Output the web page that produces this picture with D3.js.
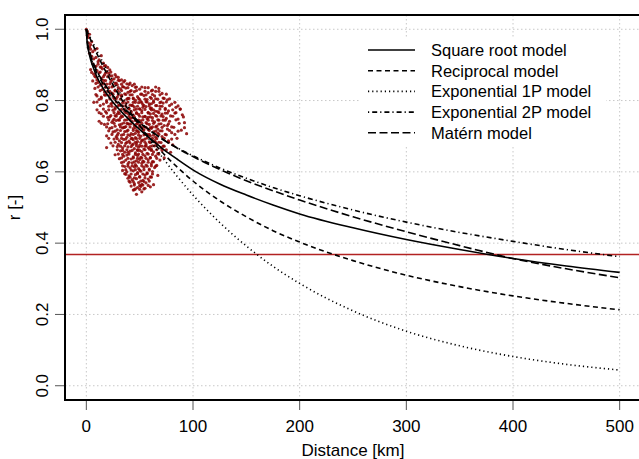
<!DOCTYPE html>
<html>
<head>
<meta charset="utf-8">
<script src="https://cdn.jsdelivr.net/npm/d3@7"></script>
<style>
  body { margin: 0; background: #fff; }
  text { font-family: 'Liberation Sans', Arial, sans-serif; }
</style>
</head>
<body>
<script>
var distKm = [0, 1, 2, 4, 6.5, 10, 15, 25, 35, 47, 60, 72, 85, 103, 125, 150, 175, 200, 250, 300, 350, 400, 450, 500];
var sqrtModel = [1, 0.955, 0.94, 0.915, 0.893, 0.866, 0.838, 0.795, 0.762, 0.727, 0.693, 0.664, 0.636, 0.6, 0.566, 0.535, 0.507, 0.482, 0.443, 0.41, 0.382, 0.357, 0.336, 0.318];
var reciprocalModel = [1, 0.993, 0.985, 0.971, 0.954, 0.931, 0.9, 0.844, 0.794, 0.742, 0.692, 0.652, 0.614, 0.567, 0.519, 0.474, 0.435, 0.403, 0.351, 0.31, 0.278, 0.252, 0.231, 0.213];
var exp1pModel = [1, 0.994, 0.988, 0.975, 0.96, 0.939, 0.91, 0.855, 0.804, 0.745, 0.687, 0.638, 0.588, 0.525, 0.458, 0.392, 0.335, 0.287, 0.21, 0.153, 0.112, 0.082, 0.06, 0.044];
var exp2pModel = [1, 0.961, 0.945, 0.922, 0.9, 0.876, 0.85, 0.808, 0.776, 0.744, 0.715, 0.691, 0.668, 0.641, 0.611, 0.582, 0.556, 0.533, 0.493, 0.459, 0.43, 0.405, 0.382, 0.362];
var maternModel = [1, 0.965, 0.95, 0.928, 0.906, 0.882, 0.856, 0.814, 0.78, 0.747, 0.716, 0.69, 0.667, 0.638, 0.607, 0.575, 0.547, 0.521, 0.474, 0.432, 0.393, 0.357, 0.328, 0.303];

var legendLabels = ['Square root model', 'Reciprocal model', 'Exponential 1P model', 'Exponential 2P model', 'Matérn model'];
var xTicks = [0, 100, 200, 300, 400, 500];
var yTicks = [0, 0.2, 0.4, 0.6, 0.8, 1.0];
var thresholdR = 0.368;

// observed station pairs [distance km, r]
var scatterPts = [
  [0,1.000],[1,0.994],[1,0.983],[2,0.977],[3,0.986],
  [2,0.962],[4,0.957],[5,0.965],[3,0.951],
  [4,0.944],[6,0.937],[8,0.942],[3,0.933],[10,0.946],
  [5,0.924],[7,0.917],[9,0.921],[12,0.914],[14,0.926],[11,0.909],
  [6,0.903],[8,0.896],[11,0.902],[13,0.894],[16,0.905],[18,0.898],[20,0.893],
  [4,0.887],[10,0.884],[15,0.889],[19,0.881],[22,0.886],
  [7,0.874],[12,0.878],[17,0.872],[21,0.876],[24,0.869],[27,0.873],
  [9,0.866],[14,0.862],[20,0.867],[26,0.861],[30,0.865],[33,0.858],
  [6,0.855],[11,0.851],[16,0.857],[23,0.853],[28,0.849],[31,0.856],[35,0.852],[38,0.847],
  [13,0.843],[19,0.846],[25,0.841],[29,0.844],[34,0.839],[40,0.845],[43,0.842],[47,0.838],
  [8,0.834],[15,0.831],[21,0.836],[27,0.829],[32,0.833],[37,0.835],[42,0.828],[50,0.832],[55,0.836],[62,0.829],[68,0.834],
  [17,0.824],[24,0.821],[30,0.826],[36,0.819],[39,0.823],[45,0.825],[52,0.818],[58,0.822],[65,0.826],[71,0.82],
  [10,0.813],[14,0.81],[22,0.815],[26,0.808],[33,0.812],[41,0.816],[44,0.807],[48,0.811],[54,0.814],[60,0.809],[64,0.813],[73,0.806],
  [12,0.803],[19,0.8],[28,0.805],[35,0.798],[38,0.804],[46,0.801],[51,0.797],[57,0.803],[63,0.799],[67,0.804],[70,0.796],[76,0.802],
  [7,0.795],[16,0.79],[24,0.793],[31,0.788],[37,0.792],[43,0.787],[49,0.794],[53,0.789],[59,0.791],[66,0.786],[72,0.793],[80,0.79],
  [21,0.784],[27,0.78],[34,0.785],[40,0.778],[45,0.782],[50,0.777],[56,0.783],[61,0.779],[69,0.784],[74,0.778],[84,0.781],[88,0.776],
  [10,0.774],[18,0.769],[25,0.773],[30,0.768],[36,0.775],[42,0.77],[47,0.766],[52,0.772],[58,0.767],[63,0.774],[67,0.769],[77,0.771],[83,0.765],
  [14,0.763],[23,0.758],[29,0.762],[33,0.757],[39,0.764],[44,0.759],[49,0.761],[55,0.756],[60,0.763],[65,0.758],[71,0.762],[79,0.757],[90,0.76],
  [20,0.753],[26,0.748],[32,0.752],[38,0.746],[41,0.751],[46,0.747],[53,0.754],[57,0.749],[62,0.752],[68,0.745],[75,0.75],[86,0.748],
  [12,0.742],[24,0.739],[28,0.744],[35,0.737],[43,0.741],[48,0.736],[51,0.743],[56,0.738],[64,0.74],[70,0.735],[78,0.742],[92,0.738],
  [17,0.733],[27,0.728],[31,0.732],[37,0.727],[40,0.734],[45,0.729],[50,0.731],[54,0.726],[59,0.733],[66,0.728],[73,0.73],[82,0.725],
  [22,0.722],[29,0.718],[34,0.723],[39,0.717],[44,0.721],[47,0.716],[52,0.724],[58,0.719],[61,0.722],[69,0.715],[76,0.72],[89,0.717],
  [25,0.712],[30,0.708],[36,0.713],[42,0.707],[49,0.711],[55,0.706],[63,0.712],[67,0.709],[74,0.705],[80,0.71],[94,0.707],
  [19,0.701],[28,0.698],[33,0.703],[38,0.697],[41,0.702],[46,0.696],[51,0.7],[57,0.695],[60,0.701],[65,0.697],[71,0.699],[85,0.694],
  [26,0.692],[31,0.687],[35,0.691],[40,0.686],[44,0.69],[48,0.685],[53,0.689],[59,0.684],[64,0.688],[68,0.683],[77,0.687],
  [23,0.681],[30,0.677],[37,0.68],[43,0.675],[47,0.679],[50,0.674],[56,0.678],[62,0.673],[66,0.677],[72,0.672],[81,0.676],
  [29,0.671],[34,0.667],[39,0.67],[45,0.665],[49,0.669],[54,0.664],[58,0.668],[61,0.663],[70,0.667],[75,0.662],
  [19,0.668],[32,0.659],[36,0.655],[41,0.658],[46,0.653],[52,0.657],[57,0.652],[63,0.656],[67,0.651],[79,0.655],
  [27,0.648],[35,0.644],[38,0.647],[44,0.642],[48,0.646],[51,0.641],[55,0.645],[60,0.64],[65,0.644],[73,0.639],
  [31,0.637],[37,0.633],[42,0.636],[47,0.631],[50,0.635],[53,0.63],[58,0.634],[62,0.629],[69,0.633],
  [33,0.626],[39,0.622],[43,0.625],[46,0.62],[52,0.624],[56,0.619],[61,0.623],[66,0.618],
  [36,0.615],[41,0.611],[45,0.614],[49,0.609],[54,0.613],[59,0.608],[64,0.612],
  [34,0.604],[38,0.6],[44,0.603],[48,0.598],[51,0.602],[57,0.597],[62,0.601],
  [37,0.593],[40,0.589],[46,0.592],[50,0.587],[55,0.591],[60,0.586],[67,0.59],
  [39,0.582],[43,0.578],[47,0.581],[53,0.576],[58,0.58],
  [41,0.571],[45,0.567],[49,0.57],[52,0.565],[56,0.569],[63,0.564],
  [42,0.56],[48,0.556],[51,0.559],[55,0.554],[60,0.558],
  [44,0.549],[47,0.537],[52,0.544],[45,0.55],
  [33,0.815],[39,0.806],[44,0.795],[50,0.803],[56,0.797],[61,0.791],[47,0.776],[53,0.781],[41,0.787],[36,0.77],
  [58,0.753],[43,0.752],[49,0.745],[39,0.735],[54,0.718],[46,0.708],[62,0.726],[35,0.725],[57,0.705],[42,0.693],
  [52,0.688],[48,0.66],[44,0.678],[55,0.672],[39,0.655],[59,0.664],[31,0.745],[27,0.758],[23,0.79],[29,0.81],
  [18,0.815],[16,0.85],[22,0.826],[65,0.77],[70,0.757],[74,0.765],[60,0.778],[67,0.72],[72,0.745],[76,0.73],
  [9,0.896],[14,0.894],[17,0.897],
  [5,0.879],[13,0.88],[18,0.877],[23,0.88],
  [8,0.868],[16,0.867],[22,0.869],[28,0.867],
  [10,0.858],[18,0.856],[24,0.858],[30,0.857],[36,0.856],
  [9,0.848],[15,0.846],[22,0.847],[27,0.848],[33,0.846],[41,0.849],[45,0.846],
  [11,0.838],[18,0.837],[24,0.838],[30,0.836],[35,0.838],[39,0.836],[46,0.837],[52,0.838],[58,0.836],[65,0.838],
  [13,0.828],[20,0.826],[27,0.827],[33,0.828],[41,0.826],[47,0.828],[55,0.826],[61,0.827],[68,0.826],
  [9,0.817],[17,0.816],[25,0.818],[30,0.816],[37,0.817],[43,0.816],[51,0.818],[56,0.816],[62,0.817],[69,0.816],[75,0.818],
  [14,0.806],[22,0.805],[26,0.806],[32,0.804],[40,0.806],[44,0.805],[49,0.806],[55,0.804],[61,0.806],[65,0.805],[72,0.807],[78,0.805],
  [10,0.796],[19,0.795],[28,0.796],[34,0.794],[39,0.796],[46,0.795],[52,0.794],[57,0.796],[63,0.795],[69,0.794],[75,0.796],[83,0.795],
  [13,0.786],[24,0.784],[30,0.786],[37,0.784],[43,0.786],[48,0.784],[54,0.786],[59,0.785],[65,0.786],[71,0.784],[78,0.786],[86,0.785],
  [16,0.776],[21,0.774],[27,0.776],[33,0.775],[40,0.776],[45,0.774],[50,0.776],[55,0.775],[61,0.774],[69,0.776],[74,0.775],[81,0.774],[88,0.776],
  [12,0.766],[19,0.765],[26,0.766],[31,0.764],[37,0.766],[42,0.765],[47,0.764],[52,0.766],[58,0.765],[63,0.764],[68,0.766],[76,0.765],[84,0.766],
  [16,0.756],[22,0.754],[28,0.756],[34,0.755],[40,0.756],[45,0.754],[50,0.756],[55,0.755],[60,0.754],[66,0.756],[72,0.755],[81,0.756],[91,0.754],
  [21,0.746],[25,0.744],[30,0.746],[36,0.745],[41,0.746],[46,0.744],[53,0.746],[58,0.745],[62,0.744],[67,0.746],[74,0.745],[84,0.746],
  [14,0.736],[20,0.735],[26,0.736],[33,0.734],[38,0.736],[42,0.735],[47,0.734],[52,0.736],[57,0.735],[63,0.736],[68,0.734],[77,0.735],[87,0.736],
  [19,0.726],[24,0.724],[32,0.726],[36,0.725],[41,0.726],[46,0.724],[50,0.726],[56,0.725],[60,0.724],[65,0.726],[71,0.725],[80,0.726],[92,0.724],
  [21,0.715],[27,0.714],[32,0.716],[38,0.714],[44,0.716],[48,0.714],[53,0.715],[59,0.716],[65,0.714],[71,0.715],[78,0.716],[86,0.714],
  [24,0.705],[29,0.703],[35,0.705],[39,0.704],[44,0.705],[49,0.703],[54,0.704],[59,0.705],[63,0.703],[68,0.705],[75,0.704],[83,0.705],
  [21,0.694],[29,0.693],[33,0.694],[37,0.692],[43,0.694],[47,0.693],[50,0.694],[55,0.692],[62,0.694],[66,0.693],[73,0.694],[80,0.692],
  [27,0.683],[33,0.682],[38,0.683],[41,0.681],[46,0.683],[51,0.682],[55,0.683],[60,0.682],[65,0.683],[70,0.682],[77,0.683],
  [25,0.673],[32,0.672],[36,0.673],[42,0.671],[47,0.673],[52,0.672],[56,0.673],[60,0.671],[64,0.673],[73,0.672],
  [29,0.662],[34,0.66],[38,0.662],[43,0.66],[48,0.662],[50,0.66],[55,0.662],[61,0.66],[66,0.662],[71,0.66],
  [30,0.65],[34,0.649],[40,0.65],[46,0.649],[49,0.65],[53,0.649],[58,0.65],[62,0.649],[68,0.65],
  [33,0.639],[39,0.638],[44,0.639],[48,0.638],[52,0.639],[56,0.638],[60,0.639],[66,0.638],
  [35,0.628],[40,0.627],[45,0.628],[49,0.627],[54,0.628],[58,0.627],[63,0.628],
  [34,0.617],[39,0.616],[43,0.617],[47,0.616],[52,0.617],[57,0.616],[61,0.617],[65,0.616],
  [37,0.606],[42,0.605],[46,0.606],[50,0.605],[54,0.606],[59,0.605],
  [36,0.595],[42,0.594],[48,0.595],[53,0.594],[57,0.595],[62,0.594],
  [41,0.585],[45,0.583],[50,0.585],[55,0.583],[61,0.585],
  [40,0.574],[44,0.573],[51,0.574],[54,0.573],[59,0.574],
  [45,0.563],[50,0.562],[53,0.563],[58,0.562],
  [46,0.552],[50,0.551],[54,0.552]
];

var width = 639;
var height = 459;
var svg = d3.select('body').append('svg')
    .attr('width', width)
    .attr('height', height)

// plot region like R: limits padded by 4%
var pL = 65, pR = 641, pT = 15, pB = 400;
var x = d3.scaleLinear().domain([-20, 520]).range([pL, pR]);
var y = d3.scaleLinear().domain([-0.04, 1.04]).range([pB, pT]);

var gridColor = '#c8c8c8';

// grid
svg.append('g').selectAll('line')
    .data(xTicks).enter().append('line')
        .attr('x1', d => x(d)).attr('x2', d => x(d))
        .attr('y1', pT).attr('y2', pB)
        .attr('stroke', gridColor).attr('stroke-dasharray', '1.5,2.5')
svg.append('g').selectAll('line')
    .data(yTicks).enter().append('line')
        .attr('x1', pL).attr('x2', pR)
        .attr('y1', d => y(d)).attr('y2', d => y(d))
        .attr('stroke', gridColor).attr('stroke-dasharray', '1.5,2.5')

// observations
svg.append('g').selectAll('circle')
    .data(scatterPts).enter().append('circle')
        .attr('cx', d => x(d[0]))
        .attr('cy', d => y(d[1]))
        .attr('r', 1.6)
        .attr('fill', '#8b0000')
        .attr('fill-opacity', 0.85)

// threshold 1/e
svg.append('line')
    .attr('x1', pL).attr('x2', pR)
    .attr('y1', y(thresholdR)).attr('y2', y(thresholdR))
    .attr('stroke', '#b22222').attr('stroke-width', 1.6)

var models = [
    {name: legendLabels[0], vals: sqrtModel, dash: null},
    {name: legendLabels[1], vals: reciprocalModel, dash: '5,3.5'},
    {name: legendLabels[2], vals: exp1pModel, dash: '1.2,3'},
    {name: legendLabels[3], vals: exp2pModel, dash: '1.2,3,5,3'},
    {name: legendLabels[4], vals: maternModel, dash: '8,3.5'}
]

var line = d3.line()
    .x(d => x(d[0]))
    .y(d => y(d[1]))
    .curve(d3.curveMonotoneX)

svg.append('g').selectAll('path')
    .data(models).enter().append('path')
        .attr('d', m => line(distKm.map((d, i) => [d, m.vals[i]])))
        .attr('fill', 'none')
        .attr('stroke', '#000')
        .attr('stroke-width', 1.6)
        .attr('stroke-dasharray', m => m.dash)

// box
svg.append('rect')
    .attr('x', pL).attr('y', pT)
    .attr('width', pR - pL).attr('height', pB - pT)
    .attr('fill', 'none').attr('stroke', '#000').attr('stroke-width', 2)

// ticks + labels
var tickColor = '#555';
svg.append('g').selectAll('line')
    .data(xTicks).enter().append('line')
        .attr('x1', d => x(d)).attr('x2', d => x(d))
        .attr('y1', pB + 1).attr('y2', pB + 10)
        .attr('stroke', tickColor)
svg.append('g').selectAll('text')
    .data(xTicks).enter().append('text')
        .attr('x', d => x(d)).attr('y', 432)
        .attr('text-anchor', 'middle')
        .attr('font-size', '17px')
        .text(d => d)
svg.append('g').selectAll('line')
    .data(yTicks).enter().append('line')
        .attr('x1', pL - 10).attr('x2', pL - 1)
        .attr('y1', d => y(d)).attr('y2', d => y(d))
        .attr('stroke', tickColor)
svg.append('g').selectAll('text')
    .data(yTicks).enter().append('text')
        .attr('transform', d => 'translate(48,' + y(d) + ') rotate(-90)')
        .attr('text-anchor', 'middle')
        .attr('font-size', '17px')
        .text(d => d3.format('.1f')(d))

// axis titles
svg.append('text')
    .attr('x', (pL + pR) / 2).attr('y', 456)
    .attr('text-anchor', 'middle')
    .attr('font-size', '17px')
    .text('Distance [km]')
svg.append('text')
    .attr('transform', 'translate(20,' + (pT + pB) / 2 + ') rotate(-90)')
    .attr('text-anchor', 'middle')
    .attr('font-size', '17px')
    .text('r [-]')

// legend
var legend = svg.append('g')
legend.append('rect')
    .attr('x', 361).attr('y', 37)
    .attr('width', 245).attr('height', 108)
    .attr('fill', '#fff')
var rows = legend.selectAll('g')
    .data(models).enter().append('g')
        .attr('transform', (d, i) => 'translate(0,' + (50 + i * 20.7) + ')')
rows.append('line')
    .attr('x1', 368).attr('x2', 415)
    .attr('stroke', '#000').attr('stroke-width', 1.6)
    .attr('stroke-dasharray', d => d.dash)
rows.append('text')
    .attr('x', 431).attr('y', 6)
    .attr('font-size', '16.5px')
    .text(d => d.name)
</script>
</body>
</html>
